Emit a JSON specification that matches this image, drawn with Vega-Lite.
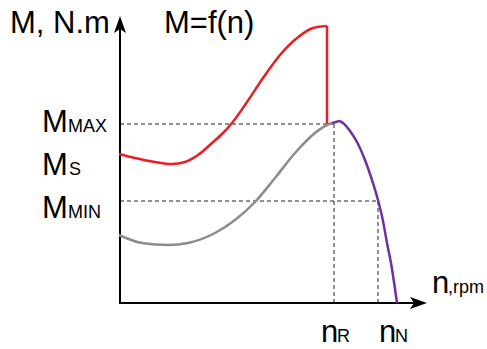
{
  "$schema": "https://vega.github.io/schema/vega-lite/v6.json",
  "width": 487,
  "height": 349,
  "padding": 0,
  "autosize": "none",
  "background": "white",
  "config": {"view": {"stroke": null}},
  "datasets": {
    "curves": [
      {"series": "starting", "n": -1, "M": 149}, {"series": "starting", "n": 15, "M": 145}, {"series": "starting", "n": 35, "M": 141},
      {"series": "starting", "n": 52, "M": 139}, {"series": "starting", "n": 65, "M": 141}, {"series": "starting", "n": 78, "M": 148},
      {"series": "starting", "n": 92, "M": 160}, {"series": "starting", "n": 102, "M": 169}, {"series": "starting", "n": 112, "M": 180},
      {"series": "starting", "n": 127, "M": 201}, {"series": "starting", "n": 143, "M": 225}, {"series": "starting", "n": 160, "M": 248},
      {"series": "starting", "n": 177, "M": 265}, {"series": "starting", "n": 193, "M": 275}, {"series": "starting", "n": 207, "M": 277},
      {"series": "torque", "n": -1, "M": 68}, {"series": "torque", "n": 22, "M": 60}, {"series": "torque", "n": 48, "M": 58},
      {"series": "torque", "n": 68, "M": 60}, {"series": "torque", "n": 95, "M": 70}, {"series": "torque", "n": 115, "M": 83},
      {"series": "torque", "n": 135, "M": 101}, {"series": "torque", "n": 155, "M": 125}, {"series": "torque", "n": 175, "M": 150},
      {"series": "torque", "n": 195, "M": 170}, {"series": "torque", "n": 207, "M": 178}, {"series": "torque", "n": 212, "M": 180},
      {"series": "working", "n": 212, "M": 180}, {"series": "working", "n": 216, "M": 181}, {"series": "working", "n": 219, "M": 182},
      {"series": "working", "n": 223, "M": 180}, {"series": "working", "n": 230, "M": 172}, {"series": "working", "n": 237, "M": 161},
      {"series": "working", "n": 245, "M": 143}, {"series": "working", "n": 252, "M": 123}, {"series": "working", "n": 258, "M": 103},
      {"series": "working", "n": 263, "M": 82}, {"series": "working", "n": 267, "M": 60}, {"series": "working", "n": 271, "M": 40},
      {"series": "working", "n": 274, "M": 21}, {"series": "working", "n": 277, "M": 0}
    ],
    "guides": [
      {"n": 0, "M": 179, "n2": 213, "M2": 179},
      {"n": 214, "M": 0, "n2": 214, "M2": 179},
      {"n": 0, "M": 102, "n2": 258, "M2": 102},
      {"n": 258, "M": 0, "n2": 258, "M2": 102}
    ],
    "axes": [
      {"n": 0, "M": -1, "n2": 0, "M2": 277},
      {"n": -1, "M": 0, "n2": 297, "M2": 0}
    ],
    "drop": [{"n": 207, "M": 277, "n2": 207, "M2": 178}],
    "labels": [
      {"label": "M, N.m", "n": -110, "M": 270, "role": "base"},
      {"label": "M=f(n)", "n": 44, "M": 270, "role": "base"},
      {"label": "M", "n": -78, "M": 171, "role": "base"},
      {"label": "MAX", "n": -52, "M": 171, "role": "sub"},
      {"label": "M", "n": -78, "M": 128, "role": "base"},
      {"label": "S", "n": -51, "M": 128, "role": "sub"},
      {"label": "M", "n": -78, "M": 85, "role": "base"},
      {"label": "MIN", "n": -52, "M": 85, "role": "sub"},
      {"label": "n", "n": 312, "M": 10, "role": "base"},
      {"label": ",rpm", "n": 328, "M": 10, "role": "sub"},
      {"label": "n", "n": 201, "M": -39, "role": "base"},
      {"label": "R", "n": 217, "M": -39, "role": "sub"},
      {"label": "n", "n": 259, "M": -39, "role": "base"},
      {"label": "N", "n": 275, "M": -39, "role": "sub"}
    ]
  },
  "encoding": {
    "x": {"field": "n", "type": "quantitative", "scale": {"domain": [-120, 367], "nice": false, "zero": false}, "axis": null},
    "y": {"field": "M", "type": "quantitative", "scale": {"domain": [-46, 303], "nice": false, "zero": false}, "axis": null}
  },
  "layer": [
    {
      "data": {"name": "guides"},
      "mark": {"type": "rule", "strokeDash": [4, 3], "color": "#222222", "strokeWidth": 1},
      "encoding": {"x2": {"field": "n2"}, "y2": {"field": "M2"}}
    },
    {
      "data": {"name": "axes"},
      "mark": {"type": "rule", "color": "black", "strokeWidth": 2},
      "encoding": {"x2": {"field": "n2"}, "y2": {"field": "M2"}}
    },
    {
      "data": {"values": [{"n": 0, "M": 277}]},
      "mark": {"type": "point", "shape": "M0,-1L0.6,0.7L0,0.3L-0.6,0.7Z", "size": 400, "filled": true, "color": "black", "opacity": 1}
    },
    {
      "data": {"values": [{"n": 297, "M": 0}]},
      "mark": {"type": "point", "shape": "M1,0L-0.7,0.6L-0.3,0L-0.7,-0.6Z", "size": 400, "filled": true, "color": "black", "opacity": 1}
    },
    {
      "data": {"name": "drop"},
      "mark": {"type": "rule", "color": "#ed1c24", "strokeWidth": 2.5},
      "encoding": {"x2": {"field": "n2"}, "y2": {"field": "M2"}}
    },
    {
      "data": {"name": "curves"},
      "mark": {"type": "line", "interpolate": "monotone", "strokeWidth": 2.5},
      "encoding": {
        "color": {"field": "series", "type": "nominal", "scale": {"domain": ["starting", "torque", "working"], "range": ["#ed1c24", "#8c8c8c", "#7030a0"]}, "legend": null}
      }
    },
    {
      "data": {"name": "labels"},
      "transform": [{"filter": "datum.role === 'base'"}],
      "mark": {"type": "text", "align": "left", "baseline": "alphabetic", "font": "Liberation Sans", "fontSize": 31, "color": "black"},
      "encoding": {"text": {"field": "label"}}
    },
    {
      "data": {"name": "labels"},
      "transform": [{"filter": "datum.role === 'sub'"}],
      "mark": {"type": "text", "align": "left", "baseline": "alphabetic", "font": "Liberation Sans", "fontSize": 18, "color": "black"},
      "encoding": {"text": {"field": "label"}}
    }
  ]
}
